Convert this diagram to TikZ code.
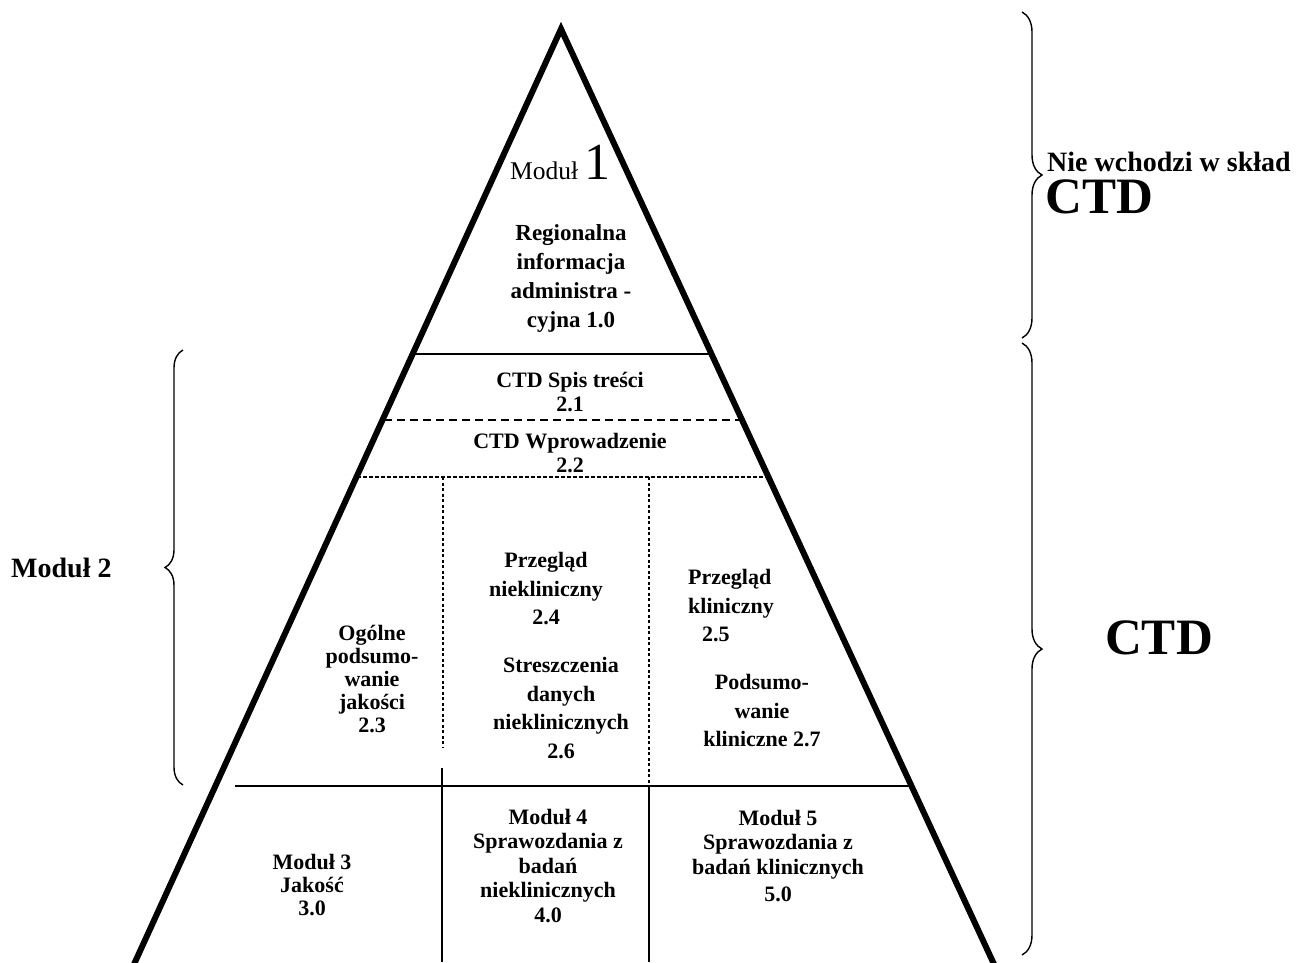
\documentclass[tikz,border=0pt]{standalone}
\usepackage{fontspec}
\setmainfont{Liberation Serif}
\usetikzlibrary{decorations.pathreplacing}
\begin{document}
\begin{tikzpicture}[x=1pt,y=-1pt,
  edge/.style={line width=6pt, line join=miter},
  rule/.style={line width=1.8pt},
  dashA/.style={line width=2.2pt, dash pattern=on 8pt off 5pt},
  dashB/.style={line width=1.5pt, dash pattern=on 4pt off 2pt},
  dashV/.style={line width=1.5pt, dash pattern=on 3pt off 2.5pt},
  vrule/.style={line width=2.2pt},
  bracestyle/.style={line width=1.4pt, decorate, decoration={brace, amplitude=#1}},
  txt/.style={font=\bfseries\fontsize{22}{24.5}\selectfont, align=center, inner sep=0pt},
  txtw/.style={font=\bfseries\fontsize{22}{28.5}\selectfont, align=center, inner sep=0pt},
  side/.style={font=\bfseries\fontsize{28}{30}\selectfont, inner sep=0pt},
  big/.style={font=\bfseries\fontsize{51}{51}\selectfont, inner sep=0pt}
]
\useasboundingbox (0,0) rectangle (1296,962);

% pyramid
\coordinate (apex) at (561,29);
\coordinate (bl) at (129.1,975);
\coordinate (br) at (999,975);
\begin{scope}
\clip (0,0) rectangle (1296,962);
\draw[edge] (bl) -- (apex) -- (br);
\end{scope}

% horizontal dividers
\coordinate (h1l) at (412.6,354); \coordinate (h1r) at (711.5,354);
\coordinate (h2l) at (384,420);   \coordinate (h2r) at (741,420);
\coordinate (h3l) at (357,477);   \coordinate (h3r) at (767,477);
\coordinate (h4l) at (235,786);   \coordinate (h4r) at (911,786);
\draw[rule] (h1l) -- (h1r);
\draw[dashA] (h2l) -- (h2r);
\draw[dashB] (h3l) -- (h3r);
\draw[rule] (h4l) -- (h4r);

% vertical dividers
\coordinate (v1t) at (443,477); \coordinate (v1m) at (443,747);
\coordinate (v1s) at (442,768); \coordinate (v1b) at (442,962);
\coordinate (v2t) at (649,477); \coordinate (v2m) at (649,786);
\coordinate (v2b) at (649,962);
\draw[dashV] (v1t) -- (v1m);
\draw[vrule] (v1s) -- (v1b);
\draw[dashV] (v2t) -- (v2m);
\draw[vrule] (v2m) -- (v2b);

% braces
\coordinate (b1t) at (1022,12);  \coordinate (b1b) at (1022,338);
\coordinate (b2t) at (1022,343); \coordinate (b2b) at (1022,955);
\coordinate (b3t) at (183,350);  \coordinate (b3b) at (183,785);
\draw[bracestyle=20pt] (b1t) -- (b1b);
\draw[bracestyle=20pt] (b2t) -- (b2b);
\draw[bracestyle=18pt] (b3b) -- (b3t);

% texts
\node[anchor=base west, inner sep=0pt, font=\fontsize{25.5}{26}\selectfont] (m1) at (510,179)
  {Moduł~{\fontsize{52}{52}\selectfont 1}};
\node[font=\bfseries\fontsize{23}{29}\selectfont, align=center, inner sep=0pt] (reg) at (571,278)
  {Regionalna\\informacja\\administra -\\cyjna 1.0};
\node[txt] (spis) at (570,392) {CTD Spis treści\\2.1};
\node[txt] (wpr) at (570,453) {CTD Wprowadzenie\\2.2};
\node[font=\bfseries\fontsize{22}{23}\selectfont, align=center, inner sep=0pt] (ogol) at (372,679)
  {Ogólne\\podsumo-\\wanie\\jakości\\2.3};
\node[txtw] (p24) at (546,589) {Przegląd\\niekliniczny\\2.4};
\node[txtw] (s26) at (561,708) {Streszczenia\\danych\\nieklinicznych\\2.6};
\node[txtw, align=left] (p25) at (731,606) {Przegląd\\kliniczny\\\hspace*{14pt}2.5};
\node[txtw] (p27) at (762,711) {Podsumo-\\wanie\\kliniczne 2.7};
\node[font=\bfseries\fontsize{22}{23}\selectfont, align=center, inner sep=0pt] (m3) at (312,885)
  {Moduł 3\\Jakość\\3.0};
\node[txt] (m4) at (548,866) {Moduł 4\\Sprawozdania z\\badań\\nieklinicznych\\4.0};
\node[txt] (m5) at (778,856) {Moduł 5\\Sprawozdania z\\badań klinicznych\\[3pt]5.0};

\node[side, anchor=west] (nie) at (1047,162) {Nie wchodzi w skład};
\node[big, anchor=west] (ctd1) at (1045,197) {CTD};
\node[big] (ctd2) at (1159,638) {CTD};
\node[side, anchor=west] (mod2) at (11,568) {Moduł 2};
\end{tikzpicture}
\end{document}
